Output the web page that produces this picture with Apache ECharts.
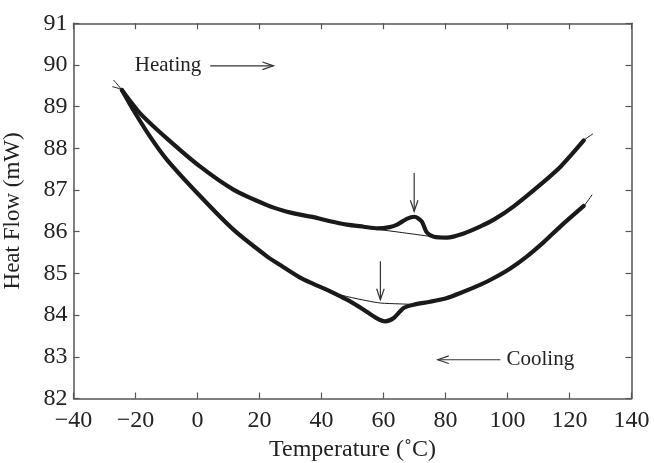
<!DOCTYPE html>
<html>
<head>
<meta charset="utf-8">
<script src="https://cdn.jsdelivr.net/npm/echarts@6/dist/echarts.min.js"></script>
<style>html,body{margin:0;padding:0;background:#fff}#c{width:654px;height:463px}</style>
</head>
<body>
<div id="c"></div>
<script>
// ---- data ----
const xTicks = [-40, -20, 0, 20, 40, 60, 80, 100, 120, 140];
const xTickLabels = ['\u221240', '\u221220', '0', '20', '40', '60', '80', '100', '120', '140'];
const yTicks = [82, 83, 84, 85, 86, 87, 88, 89, 90, 91];

const heating = [
  [-24.4, 89.40], [-18.5, 88.84], [-9.9, 88.24], [0.9, 87.56], [11.6, 87.01], [22.4, 86.64],
  [28.0, 86.50], [33.1, 86.41], [37.4, 86.35], [42.8, 86.25], [48.2, 86.17], [53.6, 86.12],
  [58.0, 86.08], [62.0, 86.11], [64.4, 86.17], [67.5, 86.31], [70.0, 86.36], [72.3, 86.25],
  [74.0, 85.98], [76.2, 85.88], [80.5, 85.86], [85.9, 85.96], [91.3, 86.13], [95.6, 86.29],
  [102.0, 86.61], [110.6, 87.13], [117.1, 87.56], [124.6, 88.19]
];
const heatingFit = [
  [-27.5, 89.48], [-24.4, 89.40], [-18.5, 88.84], [-9.9, 88.24], [0.9, 87.56], [11.6, 87.01],
  [22.4, 86.64], [33.1, 86.41], [42.8, 86.25], [53.6, 86.12], [58.0, 86.06], [65.0, 85.99],
  [70.0, 85.94], [74.0, 85.90], [76.2, 85.88], [80.5, 85.86], [85.9, 85.96], [91.3, 86.13],
  [102.0, 86.61], [110.6, 87.13], [117.1, 87.56], [124.6, 88.19], [127.6, 88.35]
];
const cooling = [
  [-24.4, 89.40], [-20.7, 88.92], [-15.3, 88.28], [-9.9, 87.73], [0.9, 86.85], [11.6, 86.05],
  [22.4, 85.41], [26.7, 85.20], [33.1, 84.90], [37.4, 84.75], [42.8, 84.57], [48.2, 84.37],
  [53.6, 84.13], [57.9, 83.92], [60.6, 83.85], [63.3, 83.93], [66.5, 84.17], [69.7, 84.25],
  [75.0, 84.32], [80.5, 84.41], [84.8, 84.53], [91.3, 84.73], [95.6, 84.89], [100.9, 85.12],
  [106.3, 85.41], [111.7, 85.75], [117.1, 86.13], [124.6, 86.62]
];
const coolingFit = [
  [-27.1, 89.64], [-24.4, 89.40], [-20.7, 88.92], [-15.3, 88.28], [-9.9, 87.73], [0.9, 86.85],
  [11.6, 86.05], [22.4, 85.41], [33.1, 84.90], [41.8, 84.58], [48.0, 84.45], [55.0, 84.34],
  [59.0, 84.29], [65.0, 84.27], [69.7, 84.26], [75.0, 84.32], [80.5, 84.41], [91.3, 84.73],
  [100.9, 85.12], [111.7, 85.75], [117.1, 86.13], [124.6, 86.62], [127.3, 86.89]
];
// arrows: [x1, y1, x2, y2] (head at second point)
const arrows = [
  [4.1, 89.98, 24.5, 89.98],
  [97.7, 82.93, 77.5, 82.93],
  [69.9, 87.41, 69.9, 86.49],
  [59.0, 85.29, 59.0, 84.37]
];
const annotationText = ['Heating', 'Cooling'];
const annotationPos = [[-9.5, 90.0], [110.6, 82.93]];

// ---- chart ----
const FONT = "'Liberation Serif', 'Times New Roman', serif";
const INK = '#1a1a1a';
const AXC = '#555';
const chart = echarts.init(document.getElementById('c'), null, {renderer: 'canvas'});

const baseX = {
  type: 'value', min: -40, max: 140, interval: 20,
  axisLine: {show: true, onZero: false, lineStyle: {color: AXC, width: 1.5}},
  axisTick: {show: true, inside: true, length: 6, lineStyle: {color: AXC, width: 1.2}},
  splitLine: {show: false}
};
const baseY = {
  type: 'value', min: 82, max: 91, interval: 1,
  axisLine: {show: true, onZero: false, lineStyle: {color: AXC, width: 1.5}},
  axisTick: {show: true, inside: true, length: 6, lineStyle: {color: AXC, width: 1.2}},
  splitLine: {show: false}
};

chart.setOption({
  animation: false,
  backgroundColor: '#fff',
  grid: {left: 73.5, right: 22.5, top: 23.3, bottom: 64.5, containLabel: false, outerBoundsMode: 'none'},
  xAxis: [
    Object.assign({}, baseX, {
      position: 'bottom',
      name: 'Temperature (\u02DAC)', nameLocation: 'middle', nameGap: 38,
      nameTextStyle: {fontFamily: FONT, fontSize: 24, color: '#222'},
      axisLabel: {
        show: true, margin: 10, fontFamily: FONT, fontSize: 24, color: '#222',
        formatter: v => { const i = xTicks.indexOf(v); return i >= 0 ? xTickLabels[i] : ''; }
      }
    }),
    Object.assign({}, baseX, {position: 'top', axisLabel: {show: false}})
  ],
  yAxis: [
    Object.assign({}, baseY, {
      position: 'left',
      name: 'Heat Flow (mW)', nameLocation: 'middle', nameGap: 49,
      nameTextStyle: {fontFamily: FONT, fontSize: 23, color: '#222'},
      axisLabel: {
        show: true, margin: 6, fontFamily: FONT, fontSize: 24, color: '#222',
        formatter: v => yTicks.indexOf(v) >= 0 ? String(v) : ''
      }
    }),
    Object.assign({}, baseY, {position: 'right', axisLabel: {show: false}})
  ],
  series: [
    {type: 'line', data: heatingFit, showSymbol: false, smooth: 0.25,
     lineStyle: {color: INK, width: 1}, z: 2},
    {type: 'line', data: coolingFit, showSymbol: false, smooth: 0.25,
     lineStyle: {color: INK, width: 1}, z: 2},
    {type: 'line', data: heating, showSymbol: false, smooth: 0.25,
     lineStyle: {color: INK, width: 4.2, cap: 'round', join: 'round'}, z: 3},
    {type: 'line', data: cooling, showSymbol: false, smooth: 0.25,
     lineStyle: {color: INK, width: 4.2, cap: 'round', join: 'round'}, z: 3},
    {
      type: 'custom', data: arrows, encode: {x: [0, 2], y: [1, 3]}, z: 4, silent: true,
      renderItem: function (params, api) {
        const p1 = api.coord([api.value(0), api.value(1)]);
        const p2 = api.coord([api.value(2), api.value(3)]);
        const dx = p2[0] - p1[0], dy = p2[1] - p1[1];
        const len = Math.hypot(dx, dy), ux = dx / len, uy = dy / len;
        const L = 11, w = 3.8;
        const a = [p2[0] - ux * L - uy * w, p2[1] - uy * L + ux * w];
        const b = [p2[0] - ux * L + uy * w, p2[1] - uy * L - ux * w];
        return {type: 'group', children: [
          {type: 'line', shape: {x1: p1[0], y1: p1[1], x2: p2[0], y2: p2[1]},
           style: {stroke: '#333', lineWidth: 1.2}},
          {type: 'polyline', shape: {points: [a, p2, b]},
           style: {stroke: '#333', fill: null, lineWidth: 1.2}}
        ]};
      }
    },
    {
      type: 'custom', data: annotationPos, encode: {x: 0, y: 1}, z: 4, silent: true,
      renderItem: function (params, api) {
        const p = api.coord([api.value(0), api.value(1)]);
        return {type: 'text', x: p[0], y: p[1], style: {
          text: annotationText[params.dataIndex], fill: '#222',
          font: '21px ' + FONT, align: 'center', verticalAlign: 'middle'
        }};
      }
    }
  ]
});
</script>
</body>
</html>
